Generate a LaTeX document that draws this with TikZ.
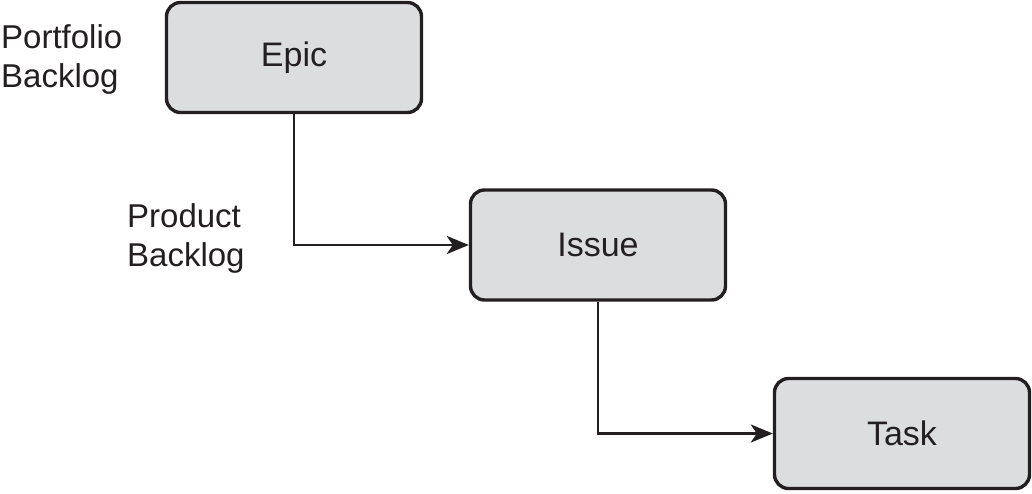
\documentclass[tikz,border=0pt]{standalone}
\usepackage{fontspec}
\setmainfont{Liberation Sans}
\usetikzlibrary{arrows.meta}
\definecolor{boxfill}{HTML}{DCDDDF}
\definecolor{ink}{HTML}{231F20}
\begin{document}
\begin{tikzpicture}[x=1pt,y=-1pt,
  level/.style={draw=ink,line width=3.4pt,fill=boxfill,rounded corners=14pt,
    minimum width=255pt,minimum height=110pt,inner sep=0pt,
    font=\fontsize{34}{34}\selectfont,text=ink},
  tag/.style={anchor=base west,inner sep=0pt,align=left,
    font=\fontsize{33}{39}\selectfont,text=ink},
  link/.style={draw=ink,line width=2.6pt,
    -{Stealth[length=22pt,width=18pt,inset=6pt]}}]
\useasboundingbox (0,0) rectangle (1032,493);
\node[level] (epic)  at (294,57.5)  {Epic};
\node[level] (issue) at (598,245)  {Issue};
\node[level] (task)  at (902,433.5) {Task};
% base anchor of a two-line node sits on the second line
\node[tag] (portfolio) at (1,87) {Portfolio\\Backlog};
\node[tag] (product) at (127,266) {Product\\Backlog};
\draw[link] (epic.south) |- (issue.west);
\draw[link] (issue.south) |- (task.west);
\end{tikzpicture}
\end{document}
